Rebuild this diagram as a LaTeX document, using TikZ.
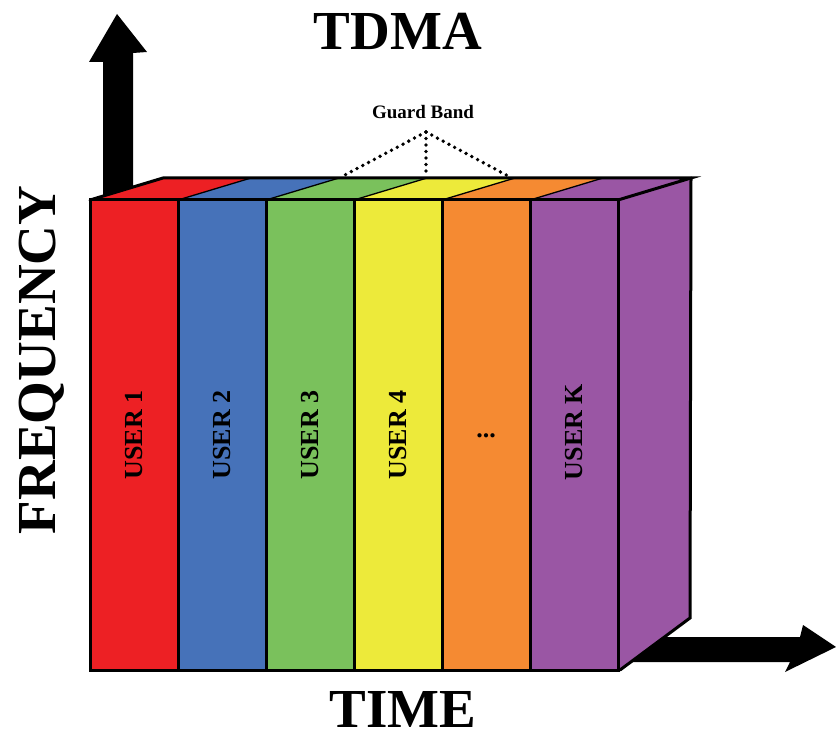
\documentclass[tikz,border=0pt]{standalone}
\usepackage{fontspec}
\setmainfont{Liberation Serif}
\begin{document}
\begin{tikzpicture}[x=1pt,y=-1pt,
  edge/.style={line width=3pt, line join=miter, line cap=round},
  divider/.style={line width=1.3pt},
  title/.style={font=\fontsize{55}{60}\selectfont\bfseries, inner sep=0pt},
  ulabel/.style={font=\fontsize{26}{28}\selectfont\bfseries, rotate=90, inner sep=0pt},
  guard/.style={line width=3.8pt, line cap=round, dash pattern=on 0pt off 6.5pt}]
\definecolor{ured}{RGB}{237,32,36}
\definecolor{ublue}{RGB}{70,114,185}
\definecolor{ugreen}{RGB}{122,193,92}
\definecolor{uyellow}{RGB}{237,234,58}
\definecolor{uorange}{RGB}{245,138,50}
\definecolor{upurple}{RGB}{154,86,164}
\useasboundingbox (0,0) rectangle (836,738);

% frequency axis arrow (behind the block)
\fill[black] (103,200) -- (103,62) -- (89,62) -- (117,14) -- (147,52) -- (133,53) -- (133,200) -- cycle;
% time axis arrow (behind the block)
\fill[black] (622,637) -- (800,637) -- (803,625) -- (836,647) -- (785,672) -- (790,662) -- (622,662) -- cycle;

% columns: front faces and top faces
\foreach \xa/\xb/\c in {90/178/ured,178/266/ublue,266/354/ugreen,354/442/uyellow,442/530/uorange,530/618/upurple}{
  \fill[\c] (\xa,200) rectangle (\xb,670);
  \fill[\c] (\xa,200) -- (\xb,200) -- ({\xb+73},178) -- ({\xa+73},178) -- cycle;
}
% right side face
\fill[upurple] (618,200) -- (691,178) -- (690,618) -- (620,670) -- cycle;

% thin dividers on the top face
\foreach \xa in {178,266,354,442,530}{
  \draw[divider] (\xa,200) -- ({\xa+73},178);
}
% front column dividers
\foreach \xa in {178,266,354,442,530}{
  \draw[edge] (\xa,200) -- (\xa,670);
}
% outline of the block
\draw[edge] (90,200) rectangle (618,670);
\draw[edge] (90,200) -- (163,178) -- (691,178) -- (618,200);
\draw[edge] (691,178) -- (690,618) -- (620,670);

% guard band callout
\node[font=\fontsize{19}{21}\selectfont\bfseries, inner sep=0pt, anchor=base] (gb) at (423,119) {Guard Band};
\coordinate (apex) at (426,132);
\coordinate (g1) at (341,177);
\coordinate (g2) at (426,177);
\coordinate (g3) at (510,177);
\draw[guard] (apex) -- (g1);
\draw[guard] (apex) -- (g2);
\draw[guard] (apex) -- (g3);

% user labels
\node[ulabel] (u1) at (134,435) {USER 1};
\node[ulabel] (u2) at (222,435) {USER 2};
\node[ulabel] (u3) at (310,435) {USER 3};
\node[ulabel] (u4) at (398,435) {USER 4};
\node[font=\fontsize{26}{28}\selectfont\bfseries, inner sep=0pt] (dots) at (486,436) {...};
\node[ulabel] (uk) at (574,432) {USER K};

% axis titles
\node[title, anchor=base] (tdma) at (398,50) {TDMA};
\node[title, anchor=base] (time) at (403,727) {TIME};
\node[title, anchor=base, rotate=90] (freq) at (55,360) {FREQUENCY};
\end{tikzpicture}
\end{document}
